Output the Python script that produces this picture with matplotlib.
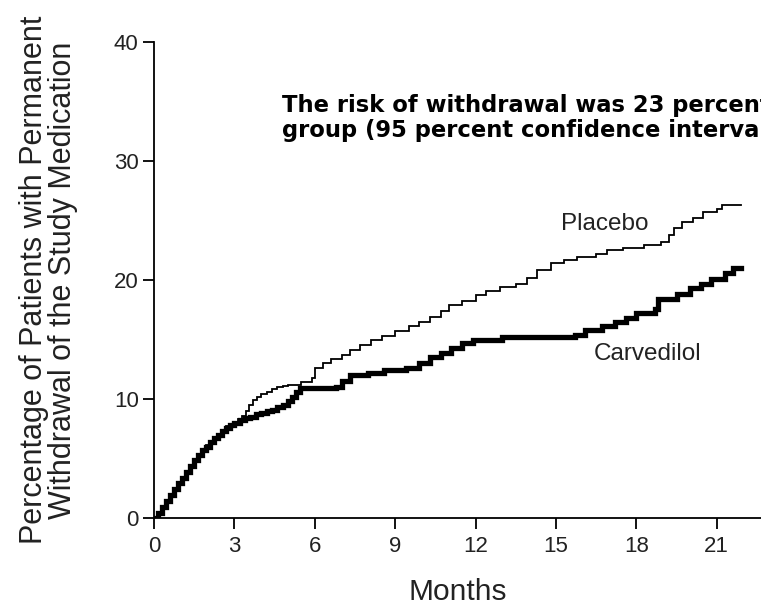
import numpy as np
import matplotlib.pyplot as plt

# Kaplan-Meier style cumulative withdrawal
placebo_months = [0, 0.15, 0.3, 0.45, 0.6, 0.75, 0.9, 1.05, 1.2, 1.35, 1.5, 1.65,
                  1.8, 1.95, 2.1, 2.25, 2.4, 2.55, 2.7, 2.85, 3.0, 3.15, 3.3, 3.45,
                  3.55, 3.7, 3.85, 4.0, 4.2, 4.4, 4.6, 4.8, 5.0, 5.5, 5.9, 6.0, 6.3,
                  6.6, 7.0, 7.3, 7.7, 8.1, 8.5, 9.0, 9.5, 9.9, 10.3, 10.7, 11.0,
                  11.5, 12.0, 12.4, 12.9, 13.5, 13.9, 14.3, 14.8, 15.3, 15.8, 16.5,
                  16.9, 17.5, 18.3, 18.9, 19.2, 19.4, 19.7, 20.1, 20.5, 21.0, 21.2,
                  21.9]
placebo_pct = [0, 0.4, 0.9, 1.4, 1.9, 2.4, 2.9, 3.4, 3.9, 4.4, 4.9, 5.3, 5.7, 6.1,
               6.5, 6.8, 7.1, 7.4, 7.7, 7.9, 8.1, 8.3, 8.6, 9.0, 9.5, 9.9, 10.2,
               10.4, 10.6, 10.8, 11.0, 11.1, 11.2, 11.4, 11.8, 12.6, 13.0, 13.4,
               13.7, 14.1, 14.5, 15.0, 15.3, 15.7, 16.1, 16.5, 16.9, 17.4, 17.9,
               18.2, 18.7, 19.1, 19.4, 19.7, 20.2, 20.8, 21.4, 21.7, 21.9, 22.2,
               22.5, 22.7, 22.9, 23.2, 23.8, 24.4, 24.9, 25.2, 25.7, 26.0, 26.3,
               26.3]

carv_months = [0, 0.15, 0.3, 0.45, 0.6, 0.75, 0.9, 1.05, 1.2, 1.35, 1.5, 1.65,
               1.8, 1.95, 2.1, 2.25, 2.4, 2.55, 2.7, 2.85, 3.0, 3.2, 3.4, 3.6,
               3.8, 4.0, 4.2, 4.4, 4.6, 4.8, 5.0, 5.15, 5.3, 5.45, 6.0, 6.8, 7.0,
               7.3, 8.0, 8.6, 9.4, 9.9, 10.3, 10.7, 11.1, 11.5, 11.9, 13.0, 15.7,
               16.1, 16.7, 17.2, 17.6, 18.0, 18.7, 18.8, 19.5, 20.0, 20.4, 20.8,
               21.3, 21.6, 21.9]
carv_pct = [0, 0.4, 0.9, 1.4, 1.9, 2.4, 2.9, 3.4, 3.9, 4.4, 4.9, 5.3, 5.7, 6.0,
            6.4, 6.7, 7.0, 7.3, 7.6, 7.8, 8.0, 8.2, 8.4, 8.5, 8.7, 8.8, 9.0, 9.1,
            9.3, 9.5, 9.8, 10.2, 10.6, 10.9, 10.9, 11.0, 11.5, 12.0, 12.2, 12.4,
            12.6, 13.0, 13.5, 13.9, 14.3, 14.7, 15.0, 15.2, 15.4, 15.8, 16.1,
            16.5, 16.8, 17.2, 17.6, 18.4, 18.8, 19.3, 19.7, 20.1, 20.6, 21.0,
            21.0]

xticks = [0, 3, 6, 9, 12, 15, 18, 21]
yticks = [0, 10, 20, 30, 40]

plt.rcParams['font.family'] = ['Liberation Sans', 'DejaVu Sans']

fig = plt.figure( figsize = (7.61, 6.06), dpi = 100 )
ax = fig.add_axes( [154/761, 88/606, 607/761, 476/606] )

ax.plot( placebo_months, placebo_pct, drawstyle = 'steps-post',
         color = 'k', lw = 1.3, solid_joinstyle = 'miter' )
ax.plot( carv_months, carv_pct, drawstyle = 'steps-post',
         color = 'k', lw = 3.8, solid_joinstyle = 'miter' )

ax.set_xlim( 0, 22.65 )
ax.set_ylim( 0, 40 )
ax.set_xticks( xticks )
ax.set_yticks( yticks )
ax.spines['top'].set_visible( False )
ax.spines['right'].set_visible( False )
for s in ['left', 'bottom']:
    ax.spines[s].set_linewidth( 1.3 )
ax.tick_params( direction = 'out', length = 8, width = 1.3,
                labelsize = 16, labelcolor = '#222222' )
ax.tick_params( axis = 'x', pad = 5 )
ax.tick_params( axis = 'y', pad = 3 )

ax.set_xlabel( 'Months', fontsize = 21.5, color = '#222222', labelpad = 15 )
ax.set_ylabel( 'Percentage of Patients with Permanent\n'
               'Withdrawal of the Study Medication',
               fontsize = 22, color = '#222222', labelpad = 26,
               linespacing = 0.95 )

ax.text( 15.2, 24.7, 'Placebo', fontsize = 17.5, color = '#222222',
         va = 'center' )
ax.text( 16.4, 13.8, 'Carvedilol', fontsize = 17.5, color = '#222222',
         va = 'center' )

# baseline of the second line sits at y = 32
ax.text( 4.78, 32.0,
         'The risk of withdrawal was 23 percent lower in the carvedilol\n'
         'group (95 percent confidence interval, 11 to 33 percent)',
         fontsize = 16.3, fontweight = 'bold', family = 'DejaVu Sans',
         va = 'baseline', linespacing = 1.12, clip_on = False )

fig.savefig( 'out.png', dpi = 100 )
